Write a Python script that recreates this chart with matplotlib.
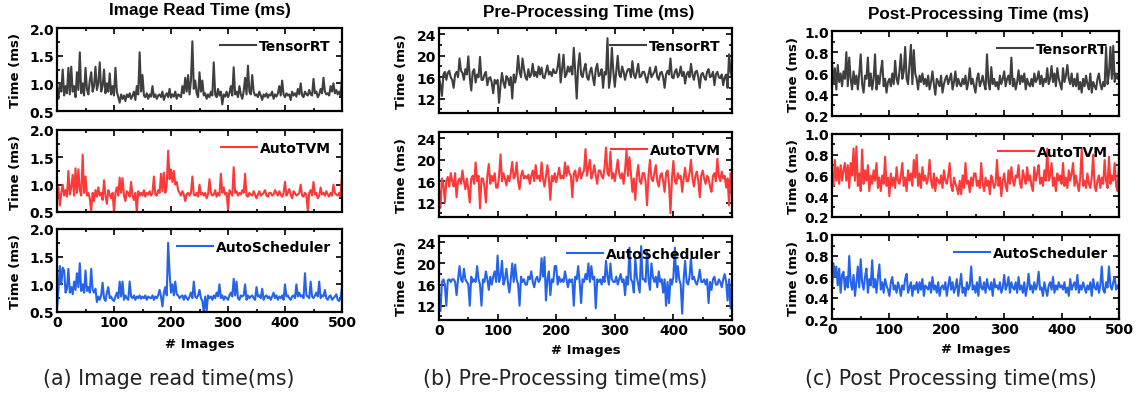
import numpy as np
import matplotlib
matplotlib.use('Agg')
import matplotlib.pyplot as plt
from matplotlib.ticker import MultipleLocator

# image index, one sample every 2.5 images
images = np.linspace(0, 500, 201)

# Image read time (ms)
read_trt = [0.95, 0.72, 1.00, 0.85, 1.25, 0.78, 0.95, 0.82, 1.28, 0.80,
            1.30, 0.85, 0.95, 0.75, 1.20, 0.88, 1.56, 0.82, 1.00, 0.78,
            1.28, 0.90, 0.80, 1.05, 1.20, 0.85, 0.95, 1.30, 0.88, 1.00,
            1.38, 0.85, 0.95, 1.25, 0.82, 1.00, 0.85, 1.18, 0.80, 0.95,
            0.78, 1.28, 0.85, 0.75, 0.65, 0.80, 0.72, 0.78, 0.68, 0.80,
            0.75, 0.82, 0.72, 0.78, 0.85, 0.70, 0.95, 0.80, 1.56, 0.85,
            1.15, 0.78, 0.75, 0.82, 0.72, 0.80, 0.76, 0.95, 0.75, 0.80,
            0.72, 0.78, 0.80, 0.75, 0.85, 0.70, 0.78, 0.82, 0.75, 0.90,
            0.74, 0.80, 0.76, 0.85, 0.72, 0.80, 0.78, 0.75, 0.95, 0.82,
            1.10, 0.85, 1.15, 0.80, 1.05, 1.76, 0.90, 1.05, 0.82, 0.75,
            1.20, 0.85, 1.05, 0.78, 0.82, 0.72, 0.80, 0.75, 0.85, 0.78,
            1.38, 0.80, 0.75, 0.90, 0.78, 0.85, 0.62, 0.80, 0.76, 0.85,
            0.75, 0.82, 0.95, 0.78, 1.29, 0.80, 0.85, 0.75, 0.95, 0.80,
            0.72, 0.85, 1.10, 0.80, 1.32, 0.85, 0.80, 1.15, 0.85, 0.78,
            0.80, 0.75, 0.85, 0.78, 0.70, 0.80, 0.76, 0.82, 0.74, 0.80,
            0.78, 0.85, 0.72, 0.80, 0.76, 0.82, 0.95, 0.78, 1.05, 0.80,
            0.75, 0.82, 0.78, 0.80, 0.70, 0.85, 0.78, 0.82, 0.76, 0.90,
            0.80, 1.00, 0.78, 0.75, 0.85, 0.80, 0.78, 0.88, 0.80, 0.78,
            1.08, 0.82, 0.85, 0.75, 0.80, 0.90, 0.82, 1.10, 0.85, 0.80,
            0.82, 0.78, 0.95, 0.85, 1.00, 0.82, 0.88, 0.80, 0.85, 0.78,
            1.10]
read_tvm = [0.75, 0.95, 0.62, 0.85, 1.00, 0.80, 0.90, 0.78, 1.25, 0.82,
            0.95, 1.18, 0.80, 1.30, 0.85, 1.28, 0.90, 0.80, 1.55, 0.85,
            1.15, 0.80, 0.85, 0.75, 0.52, 0.85, 0.70, 0.90, 0.78, 0.95,
            0.80, 0.85, 0.72, 1.08, 0.80, 0.65, 0.90, 0.82, 0.75, 0.85,
            0.50, 0.85, 0.95, 0.80, 1.13, 0.85, 1.12, 0.80, 0.70, 0.88,
            0.85, 0.78, 1.05, 0.80, 0.72, 0.85, 0.50, 0.88, 0.80, 0.85,
            0.80, 0.90, 0.78, 0.85, 0.82, 0.88, 0.80, 0.85, 1.15, 0.82,
            0.80, 0.90, 0.85, 1.20, 0.88, 1.22, 0.85, 1.00, 1.62, 1.10,
            1.28, 1.05, 1.25, 1.00, 1.05, 0.90, 0.85, 0.80, 0.88, 0.82,
            0.70, 0.82, 0.85, 0.80, 0.85, 1.15, 0.82, 0.80, 0.85, 0.78,
            1.00, 0.82, 0.85, 0.80, 0.85, 0.75, 0.82, 1.10, 0.85, 0.80,
            0.82, 0.90, 0.78, 0.85, 0.80, 1.20, 0.85, 0.95, 0.82, 0.85,
            0.55, 0.90, 0.85, 0.80, 1.32, 0.85, 0.88, 0.80, 0.85, 0.82,
            0.90, 0.85, 1.20, 0.80, 0.78, 0.85, 0.82, 0.80, 0.88, 0.82,
            0.75, 0.82, 0.88, 0.80, 0.82, 0.85, 0.90, 0.80, 0.78, 0.85,
            0.85, 0.80, 0.82, 0.90, 0.85, 0.80, 0.88, 0.82, 0.78, 0.85,
            1.05, 0.80, 0.85, 0.92, 0.82, 0.75, 0.88, 0.85, 0.80, 0.82,
            0.85, 1.00, 0.80, 0.78, 0.85, 0.82, 0.52, 0.85, 0.90, 0.80,
            1.05, 0.82, 0.85, 0.75, 0.80, 0.95, 0.82, 0.85, 0.80, 0.88,
            0.82, 0.78, 0.85, 0.80, 1.00, 0.85, 0.82, 0.80, 0.85, 0.78,
            1.20]
read_as = [0.55, 0.90, 1.33, 1.00, 1.30, 1.25, 0.85, 0.92, 1.28, 0.85,
           0.95, 0.82, 1.05, 0.90, 1.20, 0.95, 1.38, 0.88, 1.00, 0.85,
           1.25, 0.88, 0.95, 0.85, 1.28, 0.90, 0.85, 0.92, 0.68, 0.78,
           0.72, 0.80, 1.03, 0.75, 0.70, 0.85, 0.95, 0.75, 0.78, 0.72,
           0.70, 0.78, 0.85, 0.75, 1.05, 0.78, 1.05, 0.72, 0.80, 0.75,
           0.72, 1.05, 0.78, 0.75, 0.80, 0.72, 0.78, 0.75, 0.80, 0.74,
           0.78, 0.75, 0.80, 0.72, 0.78, 0.76, 0.75, 0.80, 0.72, 0.78,
           0.75, 0.80, 0.90, 0.78, 0.60, 0.85, 0.95, 0.80, 1.75, 1.20,
           0.85, 1.00, 0.80, 1.05, 0.82, 0.80, 0.75, 0.78, 0.80, 0.72,
           0.80, 0.75, 0.72, 0.78, 0.85, 0.75, 1.05, 0.78, 0.75, 0.80,
           0.90, 0.75, 0.70, 0.50, 0.78, 0.52, 0.80, 0.75, 0.78, 0.72,
           0.80, 0.75, 0.85, 0.78, 1.00, 0.75, 0.80, 0.72, 0.78, 0.75,
           0.72, 0.80, 0.85, 0.78, 1.10, 0.80, 1.05, 0.75, 0.72, 0.80,
           0.78, 0.80, 1.00, 0.72, 0.80, 0.75, 0.78, 0.80, 0.75, 0.72,
           0.95, 0.78, 0.80, 0.75, 0.92, 0.72, 0.78, 0.80, 0.75, 0.78,
           0.72, 0.78, 0.85, 0.75, 0.80, 0.72, 0.78, 0.75, 0.80, 0.72,
           1.00, 0.78, 0.80, 0.75, 0.72, 0.78, 0.80, 0.75, 1.00, 0.78,
           0.85, 0.78, 0.80, 0.75, 1.20, 0.80, 0.78, 0.75, 1.05, 0.78,
           0.75, 0.80, 0.85, 0.78, 1.05, 0.75, 0.80, 0.78, 0.90, 0.75,
           0.72, 0.78, 0.80, 0.72, 0.75, 0.78, 0.82, 0.72, 0.70, 0.75,
           0.95]

# Pre-processing time (ms)
pre_trt = [16.0, 14.5, 12.5, 16.5, 17.0, 15.5, 16.8, 17.2, 16.0, 15.5,
           14.0, 16.5, 17.0, 16.0, 19.5, 17.2, 16.8, 15.5, 17.5, 16.5,
           19.9, 16.0, 13.5, 17.0, 17.5, 15.0, 16.5, 16.0, 19.8, 15.5,
           15.5, 16.5, 17.0, 14.5, 15.8, 16.0, 15.0, 13.0, 15.5, 14.8,
           15.5, 11.2, 14.5, 16.8, 15.0, 14.0, 16.2, 15.8, 14.5, 16.0,
           12.0, 16.5, 15.0, 16.5, 20.0, 17.0, 16.0, 19.5, 17.5, 16.0,
           15.5, 17.5, 16.0, 16.5, 18.5, 16.2, 17.0, 16.0, 18.0, 16.5,
           17.8, 16.0, 15.8, 17.0, 18.2, 16.5, 17.0, 16.2, 17.5, 16.8,
           16.8, 18.0, 20.3, 15.0, 17.5, 20.2, 16.0, 16.5, 18.0, 17.0,
           18.0, 16.5, 21.5, 17.0, 12.0, 18.0, 20.5, 16.5, 16.0, 17.5,
           18.5, 16.0, 15.5, 17.0, 17.8, 16.0, 14.5, 17.5, 18.5, 16.2,
           16.5, 17.5, 14.0, 17.0, 16.5, 23.3, 14.0, 16.0, 21.5, 17.0,
           14.2, 17.0, 20.0, 16.5, 16.0, 18.0, 17.0, 15.5, 16.8, 17.5,
           17.5, 16.0, 19.0, 16.5, 15.8, 17.0, 18.5, 16.0, 16.2, 17.0,
           17.0, 16.0, 15.0, 16.5, 17.8, 16.0, 16.5, 17.0, 18.0, 16.0,
           15.5, 16.8, 17.0, 16.0, 14.0, 16.5, 17.2, 16.5, 19.5, 16.0,
           15.8, 17.0, 17.5, 16.0, 16.5, 18.0, 16.2, 17.0, 14.8, 16.5,
           17.0, 16.0, 18.5, 16.5, 15.5, 17.0, 17.2, 16.0, 14.0, 16.5,
           16.8, 16.0, 15.5, 17.0, 17.5, 16.0, 16.2, 17.0, 14.5, 16.5,
           17.0, 16.0, 15.8, 16.5, 14.5, 16.0, 16.5, 14.0, 20.3, 17.0,
           16.0]
pre_tvm = [14.0, 11.0, 16.5, 15.5, 12.0, 16.0, 16.8, 15.0, 17.5, 16.0,
           15.0, 17.5, 13.0, 16.0, 16.5, 15.5, 18.0, 16.0, 14.5, 16.5,
           14.5, 12.0, 16.5, 17.0, 15.5, 19.5, 16.0, 17.0, 10.9, 16.5,
           16.5, 15.0, 12.0, 17.0, 19.2, 15.5, 17.0, 16.0, 17.5, 14.8,
           14.8, 17.0, 21.0, 16.0, 17.5, 16.5, 15.2, 17.0, 16.0, 17.5,
           19.6, 16.5, 17.0, 19.5, 16.0, 14.5, 17.0, 18.0, 16.5, 17.0,
           16.5, 17.2, 15.5, 17.0, 18.0, 16.0, 19.0, 16.5, 17.0, 16.0,
           19.5, 16.5, 15.0, 17.0, 19.0, 16.5, 12.5, 17.0, 16.0, 17.5,
           15.8, 17.0, 18.5, 16.5, 17.0, 16.5, 19.5, 17.0, 18.8, 17.5,
           17.0, 13.0, 17.5, 18.0, 16.0, 17.0, 18.5, 16.5, 17.5, 18.0,
           22.0, 17.0, 18.5, 20.0, 16.5, 17.5, 19.0, 17.0, 15.5, 18.0,
           18.0, 17.0, 16.5, 18.5, 22.3, 17.5, 17.0, 21.5, 16.5, 17.5,
           16.0, 18.0, 20.0, 17.5, 16.5, 17.5, 15.5, 18.0, 21.8, 17.0,
           20.5, 17.5, 14.0, 16.5, 12.5, 17.0, 19.0, 16.0, 15.5, 17.5,
           17.5, 16.0, 11.5, 17.0, 20.0, 16.5, 16.0, 17.5, 19.0, 16.0,
           15.0, 17.0, 17.5, 16.0, 14.0, 17.5, 18.0, 15.5, 10.0, 16.5,
           19.8, 16.0, 15.5, 17.5, 16.5, 17.0, 14.0, 16.5, 18.5, 16.0,
           16.0, 17.5, 20.0, 16.5, 15.0, 17.0, 17.8, 16.0, 13.0, 17.0,
           18.0, 16.5, 15.5, 17.0, 16.5, 15.0, 14.0, 17.0, 17.5, 16.0,
           20.2, 17.0, 16.0, 17.8, 16.5, 17.0, 14.8, 16.5, 11.5, 17.5,
           17.0]
pre_as = [13.5, 11.0, 16.5, 17.0, 16.0, 12.0, 16.8, 17.0, 16.5, 17.0,
          17.0, 16.5, 14.0, 17.0, 19.5, 17.0, 16.5, 19.0, 17.0, 16.5,
          16.0, 12.0, 17.5, 16.5, 17.0, 16.5, 19.5, 17.0, 16.0, 12.0,
          17.0, 16.5, 18.5, 17.0, 15.0, 17.5, 16.0, 17.5, 18.5, 16.5,
          21.5, 16.5, 17.5, 20.5, 16.0, 17.0, 19.0, 16.5, 14.5, 17.0,
          20.0, 16.5, 19.8, 17.0, 16.0, 12.0, 17.5, 16.5, 17.0, 16.0,
          16.0, 17.5, 17.0, 18.5, 16.5, 15.5, 17.0, 17.5, 16.5, 17.0,
          21.0, 17.5, 21.2, 13.0, 17.0, 18.5, 14.0, 17.0, 16.5, 19.5,
          19.5, 16.0, 17.5, 16.5, 17.0, 16.5, 18.5, 17.0, 15.5, 17.0,
          16.5, 17.0, 12.0, 17.5, 17.0, 19.5, 16.5, 12.5, 17.0, 16.5,
          18.0, 17.0, 20.0, 16.5, 19.5, 17.0, 17.5, 11.5, 17.0, 16.5,
          17.0, 16.0, 17.5, 16.5, 20.5, 17.5, 16.0, 20.0, 17.0, 16.5,
          16.5, 17.5, 16.0, 17.0, 18.0, 16.5, 17.0, 14.0, 17.5, 16.0,
          23.0, 17.0, 16.5, 14.5, 21.0, 17.5, 16.0, 14.5, 23.3, 17.0,
          17.0, 16.5, 22.5, 17.0, 15.0, 20.0, 17.5, 16.5, 17.5, 15.5,
          18.5, 16.5, 17.0, 14.5, 17.0, 12.0, 16.5, 12.5, 17.0, 16.0,
          17.5, 23.0, 16.5, 19.5, 17.0, 16.0, 10.5, 17.0, 20.5, 16.5,
          16.0, 17.5, 21.0, 17.0, 17.5, 16.5, 16.0, 17.0, 18.8, 16.5,
          16.5, 17.0, 16.0, 17.0, 12.5, 16.5, 15.0, 17.0, 17.5, 16.0,
          16.0, 17.0, 16.5, 15.5, 17.0, 18.0, 16.5, 13.0, 17.0, 11.5,
          16.5]

# Post-processing time (ms)
post_trt = [0.70, 0.50, 0.65, 0.45, 0.68, 0.52, 0.60, 0.48, 0.62, 0.55,
            0.80, 0.48, 0.75, 0.55, 0.45, 0.62, 0.50, 0.58, 0.45, 0.60,
            0.78, 0.50, 0.42, 0.58, 0.55, 0.75, 0.48, 0.60, 0.45, 0.55,
            0.78, 0.45, 0.58, 0.50, 0.62, 0.72, 0.48, 0.55, 0.42, 0.52,
            0.55, 0.48, 0.60, 0.50, 0.72, 0.55, 0.50, 0.62, 0.78, 0.55,
            0.62, 0.85, 0.55, 0.50, 0.68, 0.87, 0.50, 0.82, 0.60, 0.55,
            0.45, 0.58, 0.52, 0.60, 0.50, 0.55, 0.48, 0.58, 0.45, 0.52,
            0.62, 0.50, 0.40, 0.55, 0.52, 0.48, 0.58, 0.42, 0.50, 0.55,
            0.58, 0.50, 0.55, 0.60, 0.45, 0.52, 0.62, 0.48, 0.55, 0.50,
            0.48, 0.55, 0.50, 0.58, 0.45, 0.52, 0.65, 0.50, 0.55, 0.48,
            0.42, 0.55, 0.60, 0.48, 0.52, 0.58, 0.50, 0.45, 0.78, 0.52,
            0.45, 0.66, 0.50, 0.55, 0.48, 0.52, 0.45, 0.58, 0.50, 0.55,
            0.62, 0.48, 0.55, 0.58, 0.50, 0.75, 0.48, 0.55, 0.45, 0.52,
            0.63, 0.50, 0.58, 0.52, 0.60, 0.45, 0.55, 0.50, 0.48, 0.55,
            0.48, 0.60, 0.52, 0.55, 0.62, 0.50, 0.58, 0.48, 0.55, 0.52,
            0.65, 0.50, 0.55, 0.67, 0.52, 0.60, 0.48, 0.65, 0.55, 0.50,
            0.45, 0.65, 0.52, 0.58, 0.68, 0.55, 0.50, 0.60, 0.48, 0.55,
            0.48, 0.60, 0.45, 0.52, 0.42, 0.55, 0.48, 0.58, 0.50, 0.45,
            0.60, 0.42, 0.52, 0.48, 0.45, 0.55, 0.60, 0.50, 0.45, 0.52,
            0.48, 0.85, 0.50, 0.60, 0.85, 0.55, 0.86, 0.52, 0.60, 0.55,
            0.55]
post_tvm = [0.57, 0.50, 0.75, 0.55, 0.68, 0.52, 0.70, 0.55, 0.65, 0.72,
            0.55, 0.70, 0.48, 0.72, 0.60, 0.86, 0.55, 0.88, 0.50, 0.62,
            0.45, 0.85, 0.52, 0.65, 0.55, 0.70, 0.45, 0.60, 0.52, 0.65,
            0.55, 0.72, 0.48, 0.58, 0.45, 0.60, 0.52, 0.78, 0.50, 0.58,
            0.40, 0.62, 0.50, 0.58, 0.48, 0.68, 0.55, 0.52, 0.60, 0.72,
            0.50, 0.58, 0.45, 0.65, 0.55, 0.62, 0.50, 0.75, 0.58, 0.80,
            0.50, 0.62, 0.48, 0.68, 0.55, 0.60, 0.52, 0.58, 0.75, 0.55,
            0.48, 0.62, 0.45, 0.58, 0.55, 0.52, 0.60, 0.48, 0.65, 0.55,
            0.52, 0.60, 0.72, 0.50, 0.45, 0.58, 0.52, 0.48, 0.42, 0.55,
            0.42, 0.60, 0.48, 0.72, 0.52, 0.55, 0.44, 0.58, 0.50, 0.62,
            0.62, 0.50, 0.55, 0.48, 0.72, 0.52, 0.45, 0.58, 0.50, 0.55,
            0.42, 0.60, 0.55, 0.48, 0.52, 0.75, 0.50, 0.58, 0.40, 0.55,
            0.62, 0.50, 0.45, 0.65, 0.52, 0.68, 0.55, 0.50, 0.60, 0.58,
            0.70, 0.52, 0.48, 0.65, 0.58, 0.52, 0.68, 0.55, 0.60, 0.50,
            0.45, 0.68, 0.55, 0.62, 0.70, 0.52, 0.58, 0.50, 0.65, 0.55,
            0.86, 0.55, 0.60, 0.72, 0.50, 0.58, 0.45, 0.62, 0.55, 0.60,
            0.52, 0.72, 0.50, 0.58, 0.48, 0.65, 0.55, 0.62, 0.72, 0.50,
            0.60, 0.52, 0.45, 0.58, 0.85, 0.50, 0.55, 0.48, 0.62, 0.52,
            0.48, 0.58, 0.80, 0.50, 0.45, 0.55, 0.60, 0.48, 0.58, 0.52,
            0.75, 0.55, 0.48, 0.78, 0.52, 0.60, 0.55, 0.72, 0.50, 0.45,
            0.72]
post_as = [0.47, 0.73, 0.60, 0.70, 0.52, 0.68, 0.45, 0.62, 0.65, 0.48,
           0.60, 0.50, 0.80, 0.55, 0.48, 0.62, 0.42, 0.55, 0.70, 0.50,
           0.77, 0.55, 0.48, 0.60, 0.68, 0.45, 0.58, 0.52, 0.76, 0.50,
           0.58, 0.45, 0.60, 0.72, 0.48, 0.55, 0.45, 0.58, 0.52, 0.48,
           0.42, 0.55, 0.60, 0.48, 0.52, 0.45, 0.55, 0.50, 0.42, 0.52,
           0.48, 0.58, 0.63, 0.45, 0.50, 0.55, 0.42, 0.52, 0.48, 0.55,
           0.45, 0.55, 0.48, 0.58, 0.42, 0.52, 0.50, 0.48, 0.55, 0.45,
           0.60, 0.48, 0.52, 0.45, 0.55, 0.42, 0.50, 0.52, 0.48, 0.55,
           0.42, 0.52, 0.60, 0.48, 0.55, 0.45, 0.50, 0.58, 0.42, 0.52,
           0.63, 0.45, 0.50, 0.42, 0.55, 0.48, 0.52, 0.70, 0.48, 0.52,
           0.45, 0.55, 0.42, 0.60, 0.50, 0.48, 0.55, 0.45, 0.58, 0.50,
           0.48, 0.55, 0.42, 0.58, 0.50, 0.52, 0.48, 0.55, 0.45, 0.50,
           0.62, 0.48, 0.52, 0.60, 0.45, 0.55, 0.50, 0.48, 0.55, 0.45,
           0.60, 0.48, 0.52, 0.45, 0.55, 0.42, 0.50, 0.63, 0.48, 0.52,
           0.45, 0.55, 0.48, 0.52, 0.65, 0.48, 0.50, 0.42, 0.55, 0.48,
           0.42, 0.52, 0.55, 0.48, 0.60, 0.45, 0.52, 0.48, 0.55, 0.50,
           0.52, 0.48, 0.55, 0.45, 0.50, 0.42, 0.58, 0.48, 0.52, 0.55,
           0.48, 0.62, 0.45, 0.52, 0.48, 0.55, 0.50, 0.45, 0.52, 0.48,
           0.55, 0.42, 0.58, 0.50, 0.48, 0.55, 0.45, 0.52, 0.70, 0.48,
           0.45, 0.55, 0.50, 0.70, 0.52, 0.48, 0.55, 0.60, 0.48, 0.52,
           0.50]

series_names = ['TensorRT', 'AutoTVM', 'AutoScheduler']
colors = ['#3f3f3f', '#ff3838', '#2563eb']

W, H = 1140, 402
fig = plt.figure(figsize=(W / 100, H / 100), dpi=100)


def add_box(left, right, top, bottom):
    # pixel box (origin top-left) -> figure fraction
    return fig.add_axes([left / W, 1 - bottom / H, (right - left) / W, (bottom - top) / H])


panels = [
    dict(data=[read_trt, read_tvm, read_as], ylim=(0.5, 2.0), major=0.5, minor=0.25,
         x=(57, 342), rows=[(29, 112), (131, 213), (230, 313)],
         title='Image Read Time (ms)', title_xy=(200, 11),
         xlabel_y=345, ylabel_x=16,
         caption='(a) Image read time(ms)', caption_x=169),
    dict(data=[pre_trt, pre_tvm, pre_as], ylim=(9.3, 25.2), major=4, minor=2,
         x=(439, 732), rows=[(29, 114), (133, 218), (237, 321)],
         title='Pre-Processing Time (ms)', title_xy=(589, 13),
         xlabel_y=351, ylabel_x=401,
         caption='(b) Pre-Processing time(ms)', caption_x=565),
    dict(data=[post_trt, post_tvm, post_as], ylim=(0.2, 1.0), major=0.2, minor=0.1,
         x=(832, 1119), rows=[(32, 117), (135, 218), (236, 320)],
         title='Post-Processing Time (ms)', title_xy=(978, 15),
         xlabel_y=350, ylabel_x=793,
         caption='(c) Post Processing time(ms)', caption_x=951),
]

for p in panels:
    left, right = p['x']
    for r, (top, bottom) in enumerate(p['rows']):
        ax = add_box(left, right, top, bottom)
        ax.plot(images, p['data'][r], color=colors[r], lw=1.5, label=series_names[r])
        ax.set_xlim(0, 500)
        ax.set_ylim(*p['ylim'])
        ax.xaxis.set_major_locator(MultipleLocator(100))
        ax.xaxis.set_minor_locator(MultipleLocator(50))
        ax.yaxis.set_major_locator(MultipleLocator(p['major']))
        ax.yaxis.set_minor_locator(MultipleLocator(p['minor']))
        ax.tick_params(which='both', direction='in', top=True, right=True, width=1.2)
        ax.tick_params(which='major', length=4, labelsize=10, pad=2)
        ax.tick_params(which='minor', length=2.5)
        for lab in ax.get_yticklabels() + ax.get_xticklabels():
            lab.set_fontweight('bold')
        for sp in ax.spines.values():
            sp.set_linewidth(1.6)
        ax.set_ylabel('Time (ms)', fontsize=9.5, fontweight='bold', va='center')
        ax.yaxis.set_label_coords((p['ylabel_x'] - left) / (right - left), 0.5)
        if r < 2:
            ax.tick_params(labelbottom=False)
        else:
            ax.set_xlabel('# Images', fontsize=9.5, fontweight='bold', va='center')
            ax.xaxis.set_label_coords(0.5, -(p['xlabel_y'] - bottom) / (bottom - top))
        ax.legend(loc='upper right', frameon=False, handlelength=2.6,
                  handletextpad=0.2, borderaxespad=0.4,
                  prop=dict(size=10, weight='bold'))
    tx, ty = p['title_xy']
    fig.text(tx / W, 1 - ty / H, p['title'], ha='center', va='center',
             fontsize=12.3, fontweight='bold', family='Liberation Sans')
    fig.text(p['caption_x'] / W, 1 - 379 / H, p['caption'], ha='center', va='center',
             fontsize=14.8, family='DejaVu Sans', color='#222222')

fig.savefig('out.png', dpi=100)
